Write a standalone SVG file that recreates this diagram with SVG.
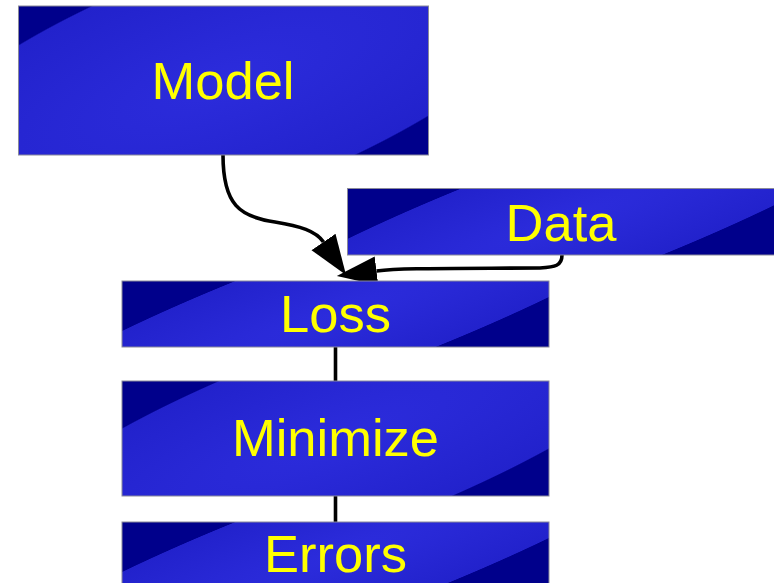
<svg xmlns="http://www.w3.org/2000/svg" width="774" height="583" viewBox="0 0 774 583">
<style>
.box{stroke:#8a8a9a;stroke-width:1}
.lbl{font-family:"Liberation Sans",Arial,sans-serif;font-size:52.5px;fill:#ffff00;text-anchor:middle}
.edge{fill:none;stroke:#000;stroke-width:3.6}
.s0{stop-color:#2c2cdc}
.s1{stop-color:#2626d2}
.s2{stop-color:#2222cc}
.s3{stop-color:#00008b}
</style>
<defs>
<radialGradient id="gM" gradientUnits="objectBoundingBox" cx="0" cy="0" r="1" fx="0" fy="0" gradientTransform="translate(0.5 0.5) scale(0.002439 0.006711) rotate(-20) scale(360 120)">
<stop offset="0" class="s0"/><stop offset="0.6" class="s1"/><stop offset="0.99" class="s2"/><stop offset="1" class="s3"/>
</radialGradient>
<radialGradient id="gN" gradientUnits="objectBoundingBox" cx="0" cy="0" r="1" fx="0" fy="0" gradientTransform="translate(0.5 0.5) scale(0.002342 0.008696) rotate(-20) scale(380 97)">
<stop offset="0" class="s0"/><stop offset="0.6" class="s1"/><stop offset="0.99" class="s2"/><stop offset="1" class="s3"/>
</radialGradient>
<radialGradient id="gS" gradientUnits="objectBoundingBox" cx="0" cy="0" r="1" fx="0" fy="0" gradientTransform="translate(0.5 0.5) scale(0.002342 0.015152) rotate(-20) scale(400 67)">
<stop offset="0" class="s0"/><stop offset="0.6" class="s1"/><stop offset="0.99" class="s2"/><stop offset="1" class="s3"/>
</radialGradient>
<marker id="ah" markerUnits="userSpaceOnUse" markerWidth="44" markerHeight="32" viewBox="0 -16 44 32" refX="0" refY="0" orient="auto">
<path d="M0,-14.5 L40,0 L0,14.5 z" fill="#000"/>
</marker>
</defs>
<g id="connectors">
<path class="edge" d="M223,155 C223,205 240,217 275,222 C300,226 316,231 323.5,242" marker-end="url(#ah)"/>
<path class="edge" d="M562,255 C562,266 555,267 540,268 C440,268.5 400,268 376.5,271" marker-end="url(#ah)"/>
<path class="edge" d="M335.5,347 L335.5,381"/>
<path class="edge" d="M335.5,496 L335.5,522"/>
</g>
<g id="node-model">
<rect class="box" x="18.5" y="6" width="410" height="149" fill="url(#gM)"/>
<text class="lbl" x="223" y="99">Model</text>
</g>
<g id="node-data">
<rect class="box" x="347.5" y="188.5" width="428" height="66.5" fill="url(#gS)"/>
<text class="lbl" x="561" y="241">Data</text>
</g>
<g id="node-loss">
<rect class="box" x="122" y="281" width="427" height="66" fill="url(#gS)"/>
<text class="lbl" x="335.5" y="332">Loss</text>
</g>
<g id="node-minimize">
<rect class="box" x="122" y="381" width="427" height="115" fill="url(#gN)"/>
<text class="lbl" x="335.5" y="456">Minimize</text>
</g>
<g id="node-errors">
<rect class="box" x="122" y="522" width="427" height="66" fill="url(#gS)"/>
<text class="lbl" x="335.5" y="572">Errors</text>
</g>
</svg>
